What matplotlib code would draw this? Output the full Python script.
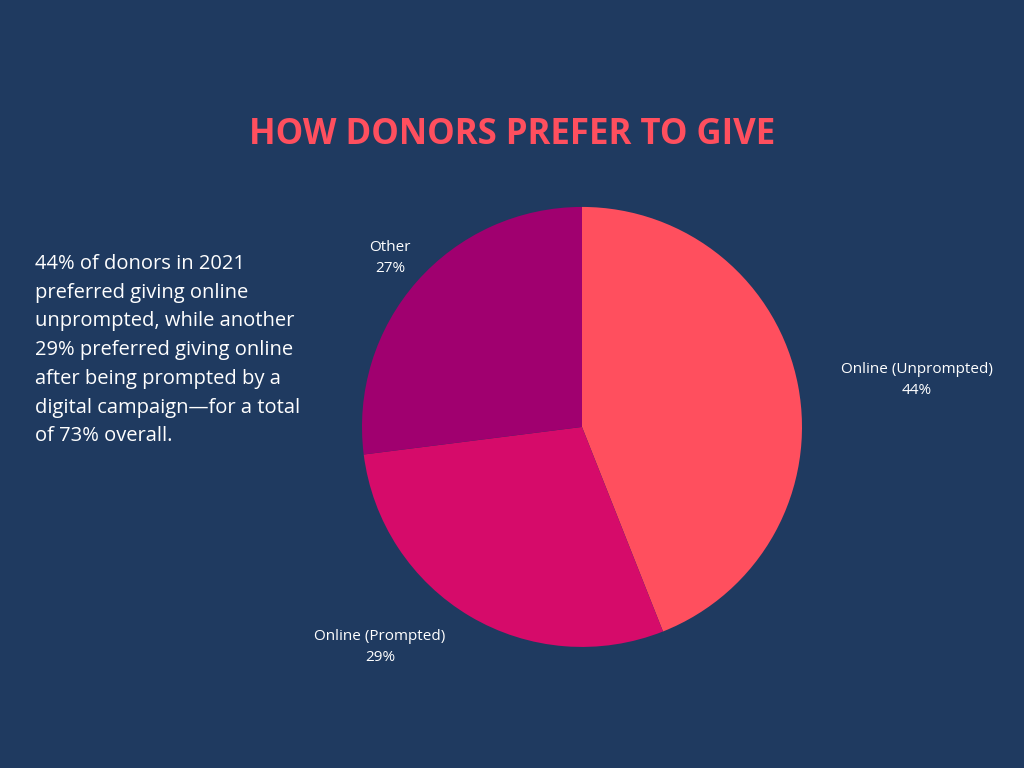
import matplotlib
matplotlib.use("Agg")
import matplotlib.pyplot as plt

categories = ["Online (Unprompted)", "Online (Prompted)", "Other"]
values = [44, 29, 27]
colors = ["#FF4F5E", "#D60B6A", "#A0006F"]
bg = "#1F3A60"

fig = plt.figure(figsize=(10.24, 7.68), dpi=100, facecolor=bg)
ax = fig.add_axes([0.3535, 0.1576, 0.4297, 0.573])
ax.set_facecolor(bg)
ax.pie(values, colors=colors, startangle=90, counterclock=False,
       wedgeprops=dict(linewidth=0), radius=1)
ax.set_xlim(-1, 1)
ax.set_ylim(-1, 1)
ax.set_aspect("equal")
ax.axis("off")

label_pos = [(917, 380), (380, 647), (390, 258)]
for cat, v, (x, y) in zip(categories, values, label_pos):
    fig.text(x / 1024, 1 - y / 768, f"{cat}\n{v}%", ha="center", va="center",
             color="white", fontsize=11, fontfamily="Open Sans", linespacing=1.5)

fig.text(0.5, 1 - 135 / 768, "HOW DONORS PREFER TO GIVE", ha="center", va="center",
         color="#FF4F5E", fontsize=25, fontweight="bold", fontfamily="Open Sans")

body = ("44% of donors in 2021\npreferred giving online\nunprompted, while another\n"
        "29% preferred giving online\nafter being prompted by a\n"
        "digital campaign\u2014for a total\nof 73% overall.")
fig.text(35 / 1024, 1 - 254 / 768, body, ha="left", va="top", color="white",
         fontsize=14.5, fontfamily="Open Sans", linespacing=1.58)

fig.savefig("out.png", dpi=100, facecolor=bg)
